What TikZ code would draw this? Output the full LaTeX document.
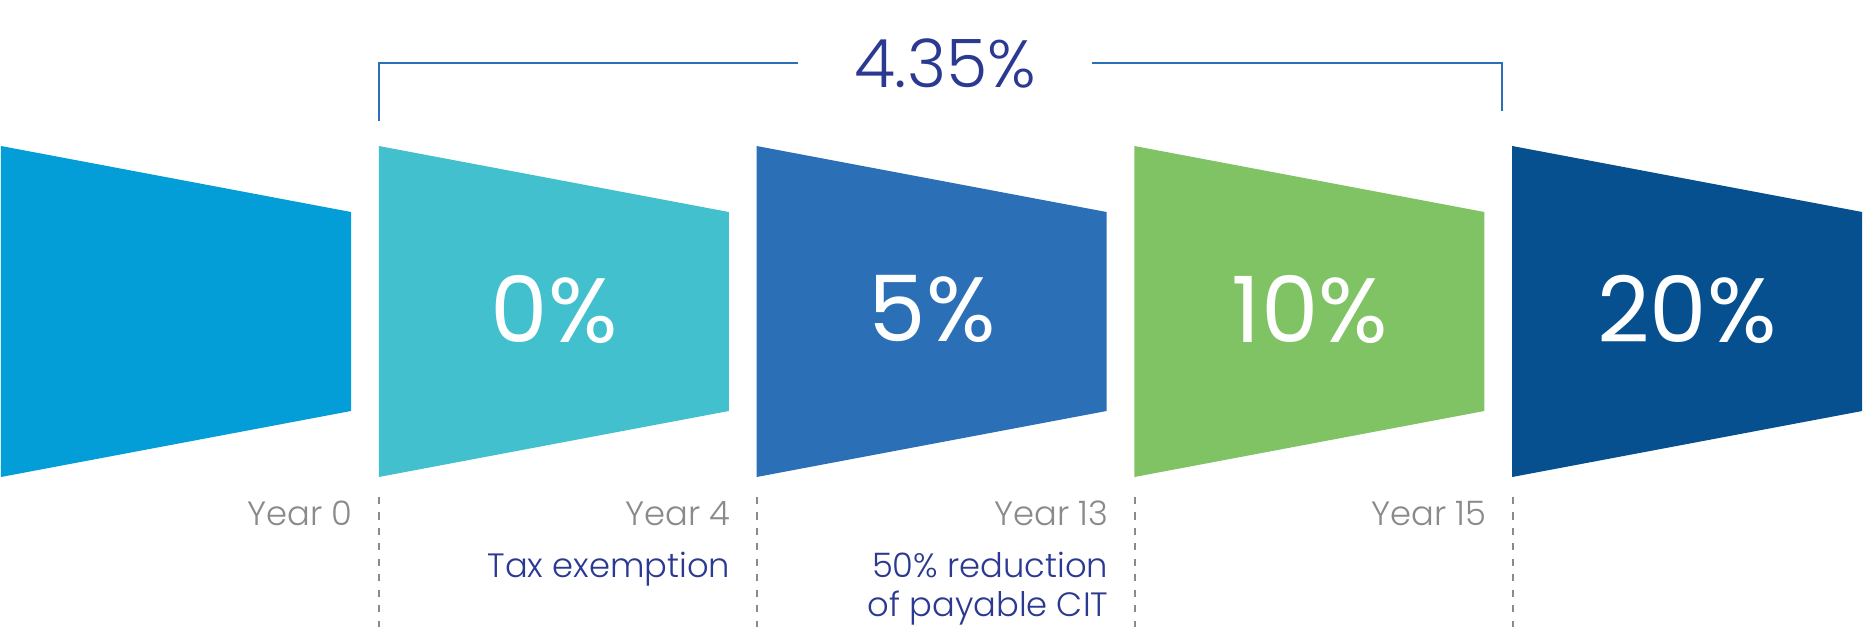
\documentclass[tikz,border=0pt]{standalone}
\usepackage{fontspec}
\setmainfont{Poppins Light}
\newfontfamily\ratefont{Poppins}
\definecolor{stageone}{RGB}{3,157,216}
\definecolor{stagetwo}{RGB}{66,192,205}
\definecolor{stagethree}{RGB}{43,111,182}
\definecolor{stagefour}{RGB}{128,195,101}
\definecolor{stagefive}{RGB}{6,80,143}
\definecolor{navytext}{RGB}{43,57,144}
\definecolor{yeargray}{RGB}{138,138,138}

\begin{document}
\begin{tikzpicture}[x=0.01cm, y=-0.01cm,
      rate/.style={text=white, font=\ratefont\fontsize{26}{30}\selectfont, inner sep=0pt},
      yearlbl/.style={anchor=base east, text=yeargray, font=\fontsize{9.6}{12}\selectfont, inner sep=0pt},
      note/.style={anchor=base east, text=navytext, font=\fontsize{9.6}{12}\selectfont, inner sep=0pt},
      total/.style={text=navytext, font=\fontsize{19}{22}\selectfont, inner xsep=0.55cm, inner ysep=0pt},
      bracket/.style={draw=stagethree, line width=0.6pt},
      tick/.style={draw=yeargray, line width=0.55pt, dash pattern=on 2pt off 2.4pt}
    ]
      \useasboundingbox (0,0) rectangle (1865,627);
      \foreach \i/\c in {0/stageone,1/stagetwo,2/stagethree,3/stagefour,4/stagefive}
        \fill[\c] ({1+377.8*\i},146) -- ({351+377.8*\i},212) -- ({351+377.8*\i},411)
                  -- ({1+377.8*\i},477) -- cycle;
      \node[rate] (r0) at (554,309) {0\%};
      \node[rate] (r5) at (932,309) {5\%};
      \node[rate] (r10) at (1310,309) {10\%};
      \node[rate] (r20) at (1687,309) {20\%};
      \node[yearlbl] (y0) at (353,525) {Year 0};
      \node[yearlbl] (y4) at (731,525) {Year 4};
      \node[yearlbl] (y13) at (1109,525) {Year 13};
      \node[yearlbl] (y15) at (1487,525) {Year 15};
      \node[note] (exempt) at (731,577) {Tax exemption};
      \node[note] (halfa) at (1109,577) {50\% reduction};
      \node[note] (halfb) at (1109,616) {of payable CIT};
      \foreach \x in {379,757,1135,1513}
        \draw[tick] (\x,497) -- (\x,627);
      \node[total] (avg) at (945,63) {4.35\%};
      \coordinate (bl) at (379,121);
      \coordinate (br) at (1502,111);
      \draw[bracket] (bl) |- (avg.west);
      \draw[bracket] (avg.east) -| (br);
    \end{tikzpicture}
\end{document}
